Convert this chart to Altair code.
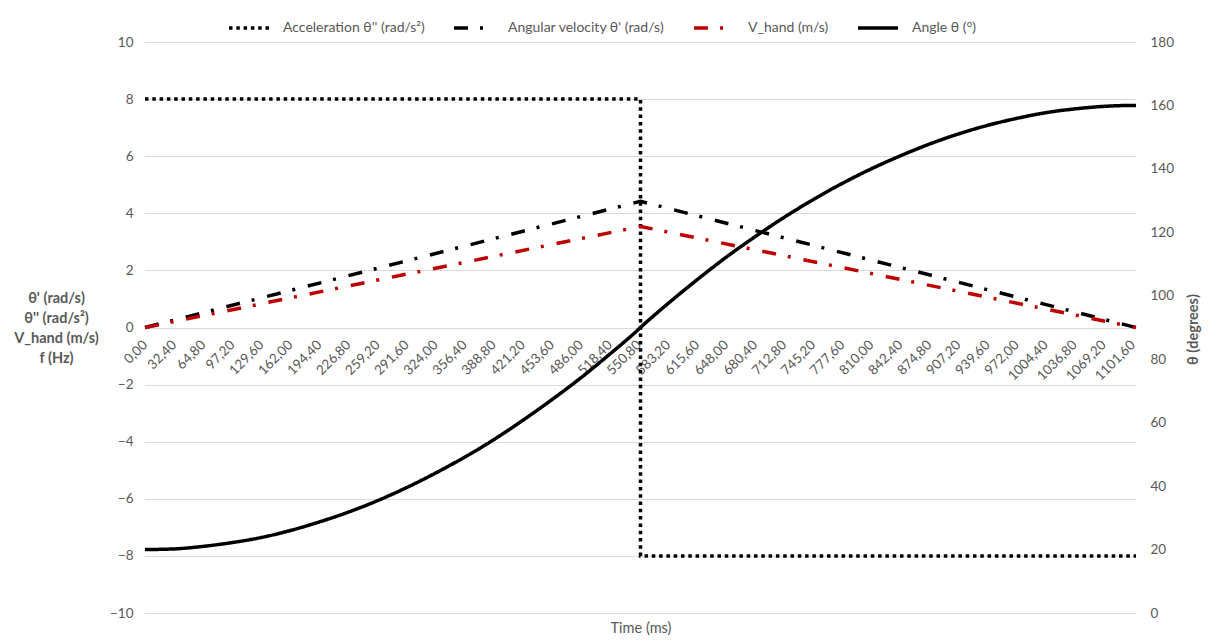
import altair as alt
import pandas as pd

# Category ticks along the time axis (ms)
tick_ms = [0.0, 32.4, 64.8, 97.2, 129.6, 162.0, 194.4, 226.8, 259.2, 291.6,
           324.0, 356.4, 388.8, 421.2, 453.6, 486.0, 518.4, 550.8, 583.2,
           615.6, 648.0, 680.4, 712.8, 745.2, 777.6, 810.0, 842.4, 874.8,
           907.2, 939.6, 972.0, 1004.4, 1036.8, 1069.2, 1101.6]
left_ticks = [-10, -8, -6, -4, -2, 0, 2, 4, 6, 8, 10]
right_ticks = [0, 20, 40, 60, 80, 100, 120, 140, 160, 180]

# Angular acceleration (rad/s²): bang-bang profile
acc_t = [0.0, 552.7, 552.7, 1105.4]
acc_v = [8.0, 8.0, -8.0, -8.0]

# Angular velocity (rad/s) and hand speed (m/s)
vel_t = [0.0, 552.7, 1105.4]
omega_v = [0.0, 4.42, 0.0]
vhand_v = [0.0, 3.54, 0.0]

# Joint angle (degrees)
angle_t = [0.0, 32.4, 64.8, 97.2, 129.6, 162.0, 194.4, 226.8, 259.2, 291.6,
           324.0, 356.4, 388.8, 421.2, 453.6, 486.0, 518.4, 550.8, 552.7,
           583.2, 615.6, 648.0, 680.4, 712.8, 745.2, 777.6, 810.0, 842.4,
           874.8, 907.2, 939.6, 972.0, 1004.4, 1036.8, 1069.2, 1101.6, 1105.4]
angle_v = [20.0, 20.2, 21.0, 22.2, 23.8, 26.0, 28.7, 31.8, 35.4, 39.5,
           44.1, 49.1, 54.6, 60.7, 67.2, 74.1, 81.6, 89.5, 90.0,
           97.5, 105.0, 112.1, 118.6, 124.7, 130.3, 135.4, 140.0, 144.1,
           147.8, 151.0, 153.7, 155.9, 157.7, 158.9, 159.7, 160.0, 160.0]

series_names = ["Acceleration θ'' (rad/s²)", "Angular velocity θ' (rad/s)",
                "V_hand (m/s)", "Angle θ (°)"]
series_colors = ["#000000", "#000000", "#c00000", "#000000"]
series_dashes = [[3.5, 3.8], [14, 12, 3, 13], [14, 12, 3, 13], [1, 0]]

GRAY = "#595959"


def frame(name, ts, vs):
    return pd.DataFrame({"series": name, "t": ts, "value": vs,
                         "idx": list(range(len(ts)))})


left_df = pd.concat([
    frame(series_names[0], acc_t, acc_v),
    frame(series_names[1], vel_t, omega_v),
    frame(series_names[2], vel_t, vhand_v),
])
right_df = frame(series_names[3], angle_t, angle_v)

legend = alt.Legend(
    title=None, orient="none", direction="horizontal", legendX=82, legendY=-36,
    symbolType="stroke", symbolSize=1600, symbolStrokeWidth=3.5,
    labelFontSize=14, labelColor=GRAY, labelOffset=12, columnPadding=22,
)
color = alt.Color("series:N", scale=alt.Scale(domain=series_names, range=series_colors),
                  legend=legend)
dash = alt.StrokeDash("series:N", scale=alt.Scale(domain=series_names, range=series_dashes),
                      legend=legend)

x_enc = alt.X(
    "t:Q",
    scale=alt.Scale(domain=[0, 1105.4], nice=False, zero=False),
    axis=alt.Axis(
        values=tick_ms, labelExpr="replace(format(datum.value, '.2f'), '.', ',')",
        labelAngle=-45, labelAlign="right", labelBaseline="middle",
        labelPadding=15, labelOverlap=False, labelFlush=False, labelBound=False,
        labelFontSize=13.5, labelColor=GRAY,
        ticks=False, tickSize=0, domain=False, grid=False, offset=-285.5,
        title="Time (ms)", titleFontSize=14.5, titleFontWeight="normal",
        titleColor=GRAY, titleY=300.5, titleBaseline="middle",
    ),
)

left = alt.Chart(left_df).mark_line(strokeWidth=3.5).encode(
    x=x_enc,
    y=alt.Y("value:Q", scale=alt.Scale(domain=[-10, 10], nice=False),
            axis=alt.Axis(values=left_ticks, grid=True, gridColor="#d9d9d9",
                          gridWidth=1, domain=False, ticks=False, tickSize=0,
                          labelPadding=12, labelFontSize=13.5, labelColor=GRAY,
                          title=["θ' (rad/s)", "θ'' (rad/s²)", "V_hand (m/s)", "f (Hz)"],
                          titleAngle=0, titleAlign="center", titleBaseline="middle",
                          titleX=-89, titleY=256, titleLineHeight=20,
                          titleFontSize=14.5, titleFontWeight="bold", titleColor=GRAY)),
    color=color,
    strokeDash=dash,
    order=alt.Order("idx:Q"),
)

right = alt.Chart(right_df).mark_line(strokeWidth=3.5, interpolate="monotone").encode(
    x=x_enc,
    y=alt.Y("value:Q", scale=alt.Scale(domain=[0, 180], nice=False),
            axis=alt.Axis(orient="right", values=right_ticks, grid=False,
                          domain=False, ticks=False, tickSize=0,
                          labelPadding=14, labelFontSize=13.5, labelColor=GRAY,
                          title="θ (degrees)", titleAngle=270, titleAlign="center",
                          titleBaseline="middle", titleX=57, titleY=287,
                          titleFontSize=14.5, titleFontWeight="bold", titleColor=GRAY)),
    color=color,
    strokeDash=dash,
    order=alt.Order("idx:Q"),
)

chart = alt.layer(left, right).resolve_scale(y="independent").properties(
    width=991, height=571,
    padding={"left": 145, "top": 42, "right": 74, "bottom": 28},
    autosize=alt.AutoSizeParams(type="none"),
    background="white",
).configure(font="Lato").configure_view(stroke=None)

chart.save("out.html", embed_options={"renderer": "svg", "actions": False})
